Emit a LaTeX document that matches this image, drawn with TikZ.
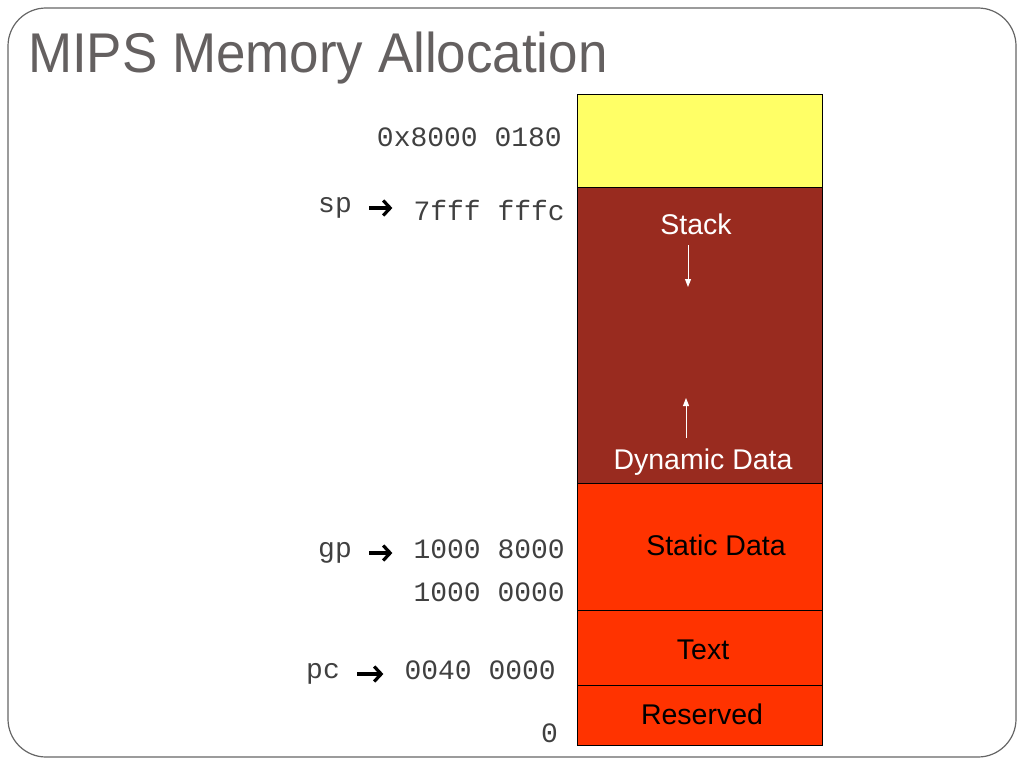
\documentclass[tikz,border=0pt]{standalone}
\usepackage{fontspec}
\setmainfont{Liberation Sans}
\newfontfamily\addrfont{Liberation Mono}
\usetikzlibrary{positioning, arrows.meta}
\definecolor{titlegray}{RGB}{100,96,96}
\definecolor{stackred}{RGB}{153,43,31}
\definecolor{datared}{RGB}{255,51,0}
\definecolor{topyellow}{RGB}{255,255,102}
\tikzset {
    x=1pt, y=-1pt,
    block/.style={draw=black, line width=0.8pt, minimum width=245pt, inner sep=0pt, outer sep=0pt},
    addr/.style={font=\addrfont\fontsize{28}{28}\selectfont, text=black!75, inner sep=0pt, anchor=east},
    reg/.style={font=\addrfont\fontsize{28}{28}\selectfont, text=black!75, inner sep=0pt},
    seg/.style={font=\fontsize{28.5}{28.5}\selectfont, inner sep=0pt},
    ptr/.style={-{Straight Barb[length=7pt, width=15pt, line width=3.2pt]}, line width=3.2pt, shorten <=17pt, shorten >=21pt},
    growarrow/.style={-{Triangle[length=8pt, width=6pt]}, white, line width=1pt}
}

\begin{document}
\begin{tikzpicture}
    \useasboundingbox (0,0) rectangle (1024,768);
    \draw[black!60, line width=1.2pt, rounded corners=38pt] (8,8) rectangle (1016,757);
    \node[anchor=base west, inner sep=0pt, text=titlegray, xscale=0.945, font=\fontsize{56}{56}\selectfont] (title) at (28,72) {MIPS Memory Allocation};

    % memory column
    \node[block, fill=topyellow, minimum height=93pt] (kernel) at (699.5,140.5) {};
    \node[block, fill=stackred, minimum height=296pt] (dynamic) at (699.5,335) {};
    \node[block, fill=datared, minimum height=127pt] (static) at (699.5,546.5) {};
    \node[block, fill=datared, minimum height=75pt] (text) at (699.5,647.5) {};
    \node[block, fill=datared, minimum height=60pt] (reserved) at (699.5,715) {};

    \node[seg, text=white] (stack) at (696,224) {Stack};
    \node[seg, text=white] (heap) at (703,462) {Dynamic Data};
    \node[seg] (staticlbl) at (716,545) {Static Data};
    \node[seg] (textlbl) at (703,650) {Text};
    \node[seg] (reservedlbl) at (702,714) {Reserved};

    \coordinate (stacktop) at (688,245);
    \coordinate (stackend) at (688,287);
    \coordinate (heapbot) at (686,438);
    \coordinate (heapend) at (686,398);
    \draw[growarrow] (stacktop) -- (stackend);
    \draw[growarrow] (heapbot) -- (heapend);

    % addresses
    \node[addr] (a0) at (562,137) {0x8000 0180};
    \node[addr] (a1) at (565,210) {7fff fffc};
    \node[addr] (a2) at (565,549) {1000 8000};
    \node[addr] (a3) at (565,592) {1000 0000};
    \node[addr] (a4) at (556,670) {0040 0000};
    \node[addr] (a5) at (558,733) {0};

    \node[reg, anchor=east] (sp) at (352,208) {sp};
    \node[reg, anchor=east] (gp) at (352,553) {gp};
    \node[reg, anchor=east] (pc) at (340,674) {pc};

    \draw[ptr] (sp.east) -- (sp.east -| a1.west);
    \draw[ptr] (gp.east) -- (gp.east -| a2.west);
    \draw[ptr] (pc.east) -- (pc.east -| a4.west);
\end{tikzpicture}
\end{document}
